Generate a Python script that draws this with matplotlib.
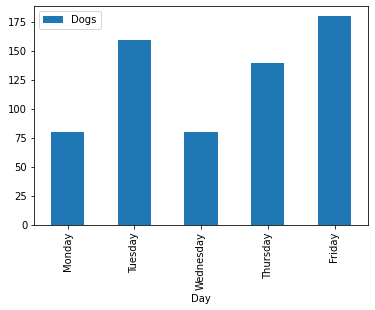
import pandas as pd
import matplotlib
matplotlib.use("Agg")
import matplotlib.pyplot as plt

days = ["Monday", "Tuesday", "Wednesday", "Thursday", "Friday"]
dogs = [80, 160, 80, 140, 180]

df = pd.DataFrame({"Day": days, "Dogs": dogs})

fig = plt.figure(figsize=(375 / 72, 310 / 72), dpi=72)
ax = fig.add_axes([0.091, 0.274, 0.890, 0.707])
df.plot(x="Day", y="Dogs", kind="bar", ax=ax, color="#1f77b4")
ax.legend(loc="upper left")
fig.savefig("out.png", dpi=72)
